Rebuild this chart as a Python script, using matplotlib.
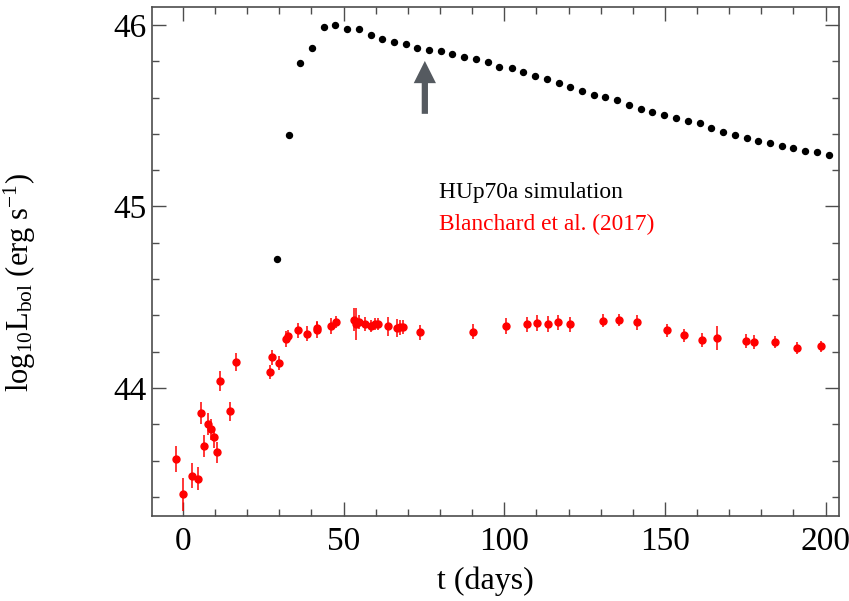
import matplotlib
matplotlib.use("Agg")
import matplotlib.pyplot as plt
from matplotlib.ticker import MultipleLocator

plt.rcParams['font.family'] = ['Liberation Serif', 'DejaVu Serif']
plt.rcParams['mathtext.fontset'] = 'custom'
plt.rcParams['mathtext.rm'] = 'Liberation Serif'
plt.rcParams['mathtext.it'] = 'Liberation Serif:italic'

# HUp70a simulation (black dots)
t_sim = [29.2, 32.9, 36.5, 40.1, 43.8, 47.4, 51.0, 54.8, 58.4, 62.0,
         65.8, 69.4, 73.0, 76.6, 80.3, 83.9, 87.5, 91.3, 94.9, 98.5,
         102.3, 105.9, 109.5, 113.2, 116.9, 120.5, 124.1, 127.8, 131.5, 135.1,
         138.8, 142.5, 146.1, 149.8, 153.4, 157.1, 160.8, 164.4, 168.1, 171.7,
         175.4, 179.0, 182.7, 186.4, 190.0, 193.6, 197.4, 201.0]
L_sim = [44.711, 45.394, 45.792, 45.873, 45.989, 45.998, 45.978, 45.980, 45.945, 45.925,
         45.905, 45.897, 45.875, 45.864, 45.857, 45.840, 45.822, 45.813, 45.796, 45.770,
         45.761, 45.741, 45.721, 45.704, 45.681, 45.657, 45.637, 45.616, 45.605, 45.585,
         45.558, 45.539, 45.519, 45.503, 45.486, 45.473, 45.459, 45.434, 45.411, 45.394,
         45.378, 45.361, 45.349, 45.335, 45.321, 45.308, 45.299, 45.286]

# Blanchard et al. (2017) observations (red points with error bars)
t_obs = [-2.1, -0.1, 2.8, 4.7, 5.7, 6.6, 7.7, 8.7, 9.6, 10.6,
         11.6, 14.7, 16.6, 27.1, 27.8, 30.0, 32.2, 32.7, 35.8, 38.6,
         41.7, 41.9, 46.0, 47.8, 53.3, 54.0, 54.7, 56.7, 58.6, 59.8,
         60.8, 63.7, 66.6, 67.7, 68.5, 73.7, 90.3, 100.4, 107.2, 110.2,
         113.5, 116.6, 120.6, 130.6, 135.8, 141.3, 150.7, 155.8, 161.4, 166.1,
         175.1, 177.6, 184.2, 191.1, 198.7]
L_obs = [43.610, 43.414, 43.517, 43.500, 43.862, 43.680, 43.801, 43.772, 43.728, 43.645,
         44.036, 43.871, 44.143, 44.087, 44.168, 44.137, 44.271, 44.284, 44.317, 44.300,
         44.322, 44.333, 44.342, 44.363, 44.377, 44.352, 44.365, 44.352, 44.341, 44.355,
         44.350, 44.339, 44.332, 44.335, 44.337, 44.306, 44.311, 44.341, 44.350, 44.357,
         44.354, 44.363, 44.350, 44.370, 44.372, 44.361, 44.317, 44.291, 44.264, 44.275,
         44.258, 44.254, 44.251, 44.221, 44.229]
err_obs = [0.073, 0.09, 0.067, 0.064, 0.062, 0.062, 0.060, 0.059, 0.056, 0.057,
           0.055, 0.053, 0.050, 0.040, 0.040, 0.039, 0.044, 0.037, 0.042, 0.042,
           0.044, 0.037, 0.046, 0.032, 0.062, 0.090, 0.039, 0.040, 0.035, 0.033,
           0.033, 0.050, 0.050, 0.042, 0.038, 0.039, 0.043, 0.045, 0.042, 0.044,
           0.043, 0.041, 0.039, 0.035, 0.033, 0.042, 0.038, 0.035, 0.038, 0.067,
           0.037, 0.039, 0.033, 0.035, 0.031]

# arrow marking the epoch of interest
arrow_t = 75.3
arrow_L = [45.495, 45.817]

fig = plt.figure(figsize=(8.49, 6.01), dpi=100)
ax = fig.add_axes([0.179, 0.1406, 0.809, 0.8478])

ax.plot(t_sim, L_sim, 'o', color='black', markersize=4.3, linestyle='none')
ax.errorbar(t_obs, L_obs, yerr=err_obs, fmt='o', color='red', ecolor='red',
            markersize=5, elinewidth=1.1, capsize=0)

ax.annotate('', xy=(arrow_t, arrow_L[1]), xytext=(arrow_t, arrow_L[0]),
            arrowprops=dict(arrowstyle='simple,head_width=1.6,head_length=1.6,tail_width=0.45',
                            color='#555a60', lw=0))

ax.text(0.418, 0.635, 'HUp70a simulation', transform=ax.transAxes,
        ha='left', va='center', fontsize=16.8, color='black')
ax.text(0.418, 0.574, 'Blanchard et al. (2017)', transform=ax.transAxes,
        ha='left', va='center', fontsize=16.8, color='red')

ax.set_xlim(-9.6, 204.1)
ax.set_ylim(43.292, 46.099)
ax.xaxis.set_major_locator(MultipleLocator(50))
ax.xaxis.set_minor_locator(MultipleLocator(10))
ax.yaxis.set_major_locator(MultipleLocator(1))
ax.yaxis.set_minor_locator(MultipleLocator(0.2))

ax.tick_params(which='both', direction='in', top=True, right=True,
               color='0.3', labelsize=24)
ax.tick_params(which='major', length=10, width=1)
ax.tick_params(which='minor', length=5, width=1)
ax.tick_params(axis='x', pad=7)
ax.tick_params(axis='y', pad=4)
for s in ax.spines.values():
    s.set_color('0.3')
    s.set_linewidth(1.2)

ax.set_xlabel('t (days)', fontsize=23)
ax.set_ylabel(r'log$_{10}$L$_{\rm bol}$ (erg s$^{-1}$)', fontsize=22)
ax.xaxis.set_label_coords(0.485, -0.098)
ax.yaxis.set_label_coords(-0.166, 0.46)

fig.savefig('out.png', dpi=100)
